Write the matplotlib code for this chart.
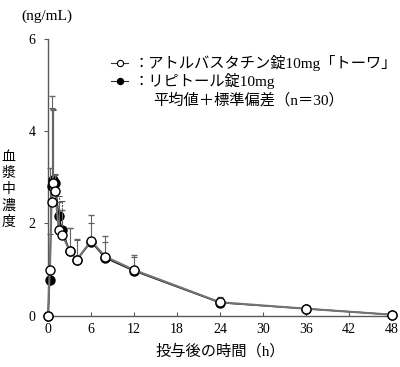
import numpy as np
import matplotlib
matplotlib.use("Agg")
from matplotlib import pyplot as plt

plt.rcParams["font.family"] = ["Liberation Serif", "Noto Sans CJK JP"]

# sampling times (h)
times = [0, 0.25, 0.5, 0.75, 1, 1.5, 2, 3, 4, 6, 8, 12, 24, 36, 48]

# test product (open circles), mean and SD (ng/mL)
test_mean = [0, 1.0, 2.46, 2.88, 2.70, 1.86, 1.75, 1.41, 1.21, 1.62, 1.28, 0.99, 0.29, 0.15, 0.02]
test_sd = [0, 2.2, 2.3, 1.6, 0.35, 0.6, 0.55, 0.5, 0.45, 0.57, 0.44, 0.33, 0.11, 0.04, 0.02]

# reference product (filled circles)
ref_mean = [0, 0.77, 2.80, 2.95, 2.88, 2.15, 1.86, 1.40, 1.20, 1.60, 1.25, 0.97, 0.28, 0.15, 0.02]
ref_sd = [0, 1.0, 1.7, 1.5, 0.2, 0.45, 0.62, 0.5, 0.43, 0.4, 0.35, 0.3, 0.1, 0.04, 0.02]

test_label = "：アトルバスタチン錠10mg「トーワ」"
ref_label = "：リピトール錠10mg"
note = "平均値＋標準偏差（n＝30）"

fig = plt.figure(figsize=(4.0, 3.67), dpi=100)
ax = fig.add_axes([0.12, 0.14, 0.86, 0.754])

# reference: black markers, dashed error bars
eb = ax.errorbar(times, ref_mean, yerr=[np.zeros(len(ref_sd)), ref_sd],
                 color="black", lw=1.0, marker="o", ms=6.5, mfc="black", mec="black",
                 ecolor="0.35", elinewidth=0.8, capsize=2.5, capthick=0.8, clip_on=False, zorder=3)
for c in eb[2]:
    c.set_linestyle((0, (2, 1)))

# test: open markers, solid error bars
ax.errorbar(times, test_mean, yerr=[np.zeros(len(test_sd)), test_sd],
            color="0.45", lw=1.5, marker="o", ms=6.5, mfc="white", mec="black", mew=1.0,
            ecolor="0.4", elinewidth=0.8, capsize=2.5, capthick=0.8, clip_on=False, zorder=4)

ax.set_xlim(0, 48)
ax.set_ylim(0, 6)
ax.set_xticks(range(0, 49, 6))
ax.set_yticks([0, 2, 4, 6])
for s in ["top", "right"]:
    ax.spines[s].set_visible(False)
for s in ["left", "bottom"]:
    ax.spines[s].set_color("0.35")
    ax.spines[s].set_linewidth(1.0)
ax.tick_params(axis="x", direction="in", length=3, labelsize=10, pad=5, color="0.35")
ax.tick_params(axis="y", direction="out", length=3, labelsize=10, pad=6, color="0.35")

ax.set_xlabel("投与後の時間（h）", fontsize=11, labelpad=6)
fig.text(0.117, 0.955, "(ng/mL)", fontsize=11, ha="center", va="center")
fig.text(0.022, 0.482, "\n".join("血漿中濃度"), fontsize=10, ha="center", va="center",
         linespacing=1.33)

# hand-built legend: short line with a marker in its middle
for yy, face in [(63, "white"), (81, "black")]:
    yf = 1 - yy / 367
    fig.add_artist(plt.Line2D([111 / 400, 128 / 400], [yf, yf], color="0.2", lw=0.8,
                              transform=fig.transFigure))
    fig.add_artist(plt.Line2D([119.5 / 400], [yf], marker="o", ms=4.5, mfc=face, mec="black",
                              mew=0.8, ls="none", transform=fig.transFigure))
fig.text(134 / 400, 1 - 63 / 367, test_label, fontsize=11, va="center")
fig.text(134 / 400, 1 - 81 / 367, ref_label, fontsize=11, va="center")
fig.text(153 / 400, 1 - 100 / 367, note, fontsize=11, va="center")

fig.savefig("out.png", dpi=100)
